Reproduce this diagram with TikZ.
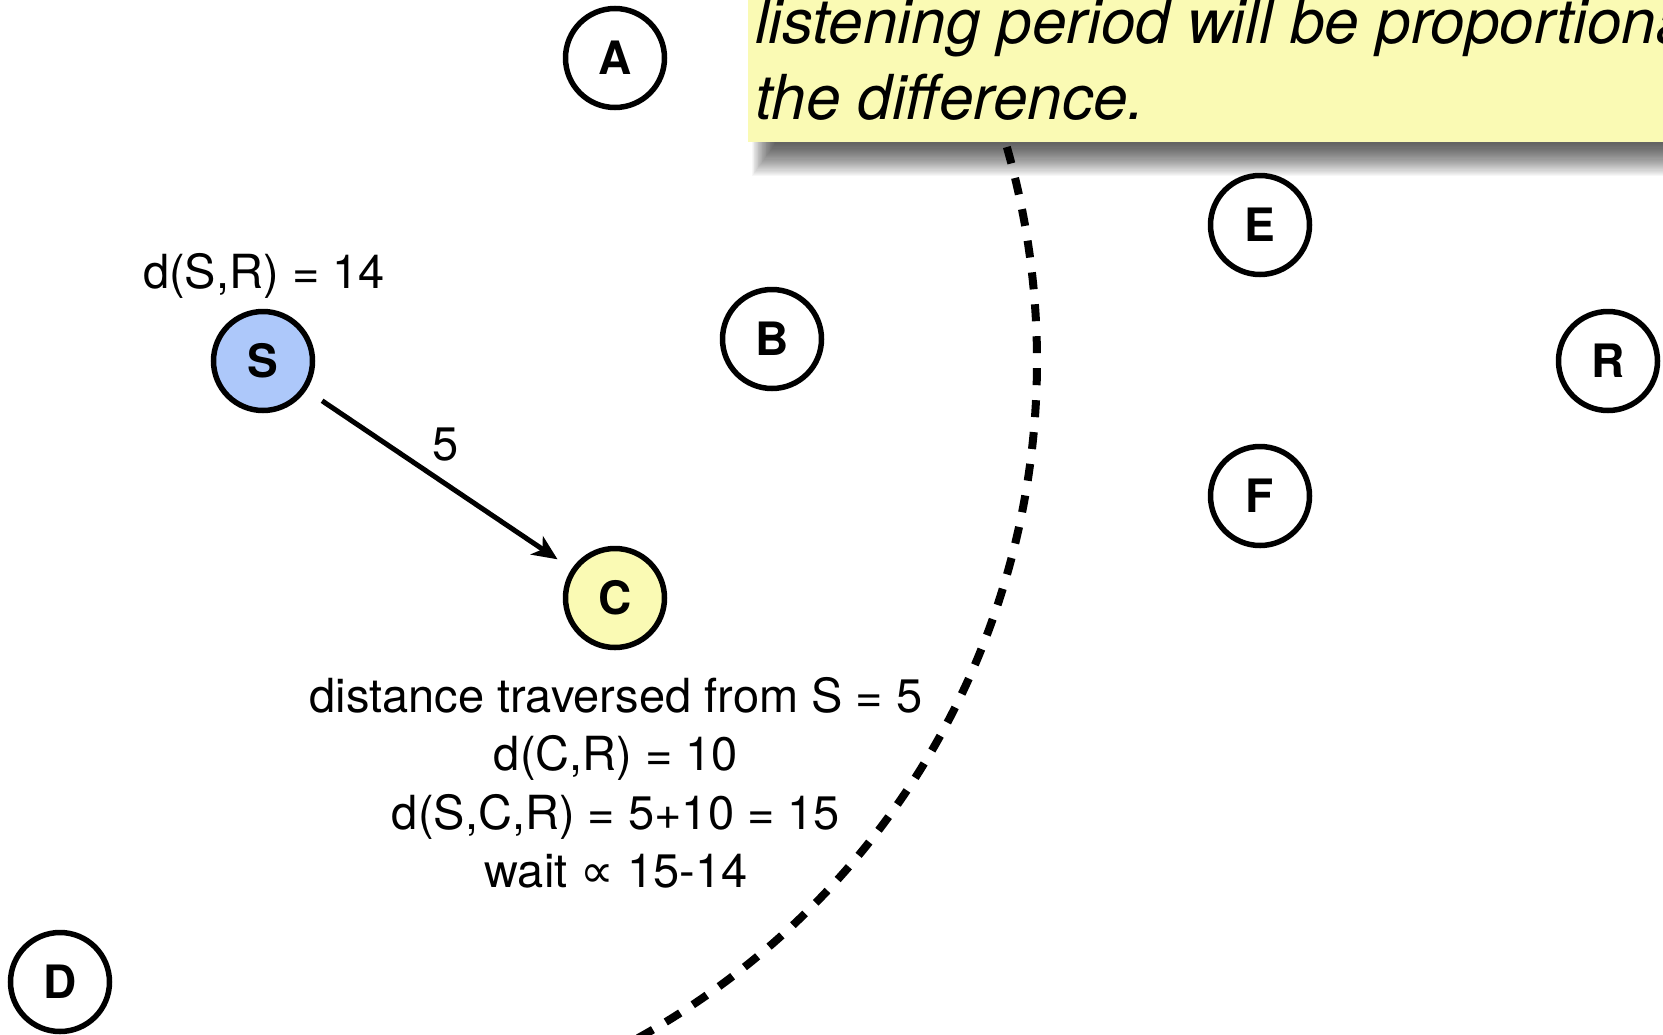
\documentclass[tikz,border=0pt]{standalone}
\usepackage{fontspec}
\setmainfont{TeX Gyre Heros}
\newfontfamily\symbolfont{DejaVu Sans}
\usetikzlibrary{arrows.meta}

\definecolor{sourceblue}{RGB}{173,200,250}
\definecolor{paleyellow}{RGB}{250,250,180}

\begin{document}
\begin{tikzpicture}[x=1pt, y=-1pt]
    % Define styles
    \tikzset{
        station/.style={
            circle,
            draw,
            line width=5.5pt,
            minimum size=99pt,
            inner sep=0pt,
            font=\fontsize{46}{46}\selectfont\bfseries
        },
        hop/.style={
            line width=5pt,
            -{Stealth[length=25pt, width=22pt, inset=7pt]},
            shorten <=19pt,
            shorten >=17pt
        },
        reach/.style={
            line width=8pt,
            dash pattern=on 17pt off 15pt
        },
        dist/.style={
            font=\fontsize{47}{58.5}\selectfont,
            align=center
        },
        notetext/.style={
            font=\fontsize{62}{76}\selectfont\itshape,
            align=left,
            inner sep=0pt
        }
    }

    % Canvas
    \useasboundingbox (0,0) rectangle (1663,1034);
    \clip (0,0) rectangle (1663,1034);

    % Reach of S (14 hops)
    \draw[reach] (263,361) ++(-35:774) arc[start angle=-35, end angle=70, radius=774];

    % Note with its soft shadow
    \foreach \k in {0,...,29}
        \fill[black, opacity=0.033] (752+0.8*\k,-60) rectangle (1720,176-1.1*\k);
    \fill[paleyellow] (748,-60) rectangle (1720,142);
    \node[notetext, anchor=north west] (notebody) at (755,-2)
        {listening period will be proportional to\\the difference.};

    % Stations
    \node[station] (A) at (615,58) {A};
    \node[station] (B) at (772,339) {B};
    \node[station] (D) at (60,982) {D};
    \node[station] (E) at (1260,225) {E};
    \node[station] (F) at (1260,496) {F};
    \node[station] (R) at (1608,361) {R};
    \node[station, fill=sourceblue] (S) at (263,361) {S};
    \node[station, fill=paleyellow] (C) at (615,598) {C};

    % Hop from S to C
    \draw[hop] (S) -- (C);
    \node[dist] (hoplen) at (446,445) {5};

    % Distances
    \node[dist] (srdist) at (264,276) {d(S,R) = 14};
    \node[dist] (waitcalc) at (616,783) {distance traversed from S = 5\\
        d(C,R) = 10\\
        d(S,C,R) = 5+10 = 15\\
        wait {\symbolfont ∝} 15-14};

\end{tikzpicture}
\end{document}
